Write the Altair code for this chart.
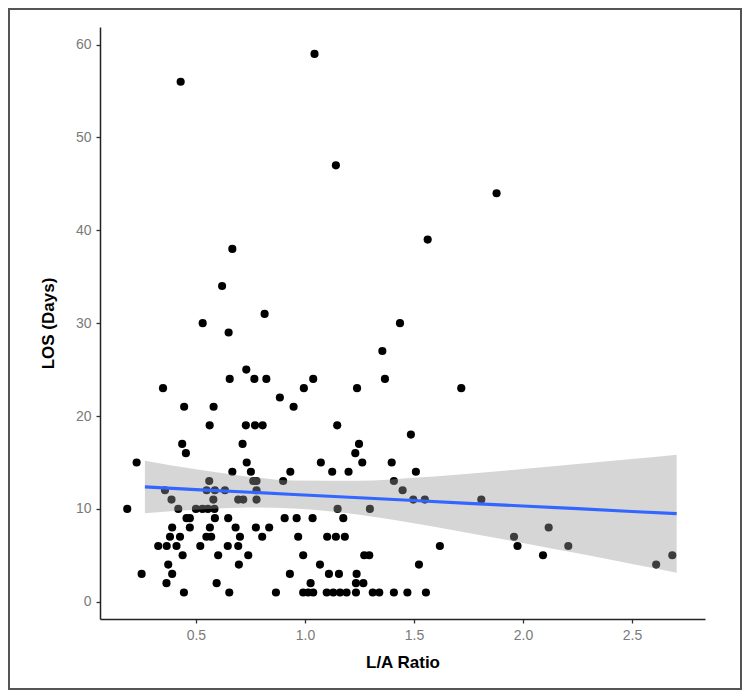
import altair as alt
import pandas as pd

# L/A ratio (x) and LOS in days (y), grouped by LOS value
la_ratio = [
    1.044, 0.430, 1.142, 1.879, 1.563, 0.667, 0.620, 0.815, 0.531, 1.436,
    0.650, 1.355, 0.731,
    0.655, 0.768, 0.823, 1.038, 1.367,
    0.349, 0.995, 1.239, 1.717,
    0.885,
    0.446, 0.581, 0.948,
    0.563, 0.729, 0.771, 0.806, 1.148,
    1.486,
    0.437, 0.714, 1.248,
    0.454, 1.231,
    0.228, 0.733, 1.073, 1.263, 1.398,
    0.667, 0.752, 0.933, 1.125, 1.200, 1.509,
    0.561, 0.763, 0.778, 0.900, 1.408,
    0.358, 0.549, 0.587, 0.633, 0.778, 1.448,
    0.388, 0.580, 0.694, 0.717, 0.778, 1.497, 1.550, 1.809,
    0.185, 0.419, 0.500, 0.530, 0.555, 0.585, 1.150, 1.298,
    0.457, 0.472, 0.587, 0.648, 0.907, 0.962, 1.035, 1.176,
    0.391, 0.472, 0.564, 0.682, 0.775, 0.836, 2.118,
    0.381, 0.427, 0.548, 0.570, 0.702, 0.804, 0.969, 1.102, 1.142, 1.183, 1.959,
    0.327, 0.366, 0.411, 0.520, 0.646, 0.694, 1.619, 1.975, 2.208,
    0.439, 0.602, 0.740, 0.992, 1.272, 1.295, 2.092, 2.685,
    0.373, 0.697, 1.069, 1.523, 2.611,
    0.251, 0.391, 0.931, 1.110, 1.156, 1.237,
    0.365, 0.595, 1.026, 1.234, 1.268,
    0.445, 0.653, 0.867, 0.992, 1.015, 1.038, 1.100, 1.130, 1.161, 1.191,
    1.234, 1.311, 1.341, 1.408, 1.470, 1.555,
]
los_days = [
    59, 56, 47, 44, 39, 38, 34, 31, 30, 30,
    29, 27, 25,
    24, 24, 24, 24, 24,
    23, 23, 23, 23,
    22,
    21, 21, 21,
    19, 19, 19, 19, 19,
    18,
    17, 17, 17,
    16, 16,
    15, 15, 15, 15, 15,
    14, 14, 14, 14, 14, 14,
    13, 13, 13, 13, 13,
    12, 12, 12, 12, 12, 12,
    11, 11, 11, 11, 11, 11, 11, 11,
    10, 10, 10, 10, 10, 10, 10, 10,
    9, 9, 9, 9, 9, 9, 9, 9,
    8, 8, 8, 8, 8, 8, 8,
    7, 7, 7, 7, 7, 7, 7, 7, 7, 7, 7,
    6, 6, 6, 6, 6, 6, 6, 6, 6,
    5, 5, 5, 5, 5, 5, 5, 5,
    4, 4, 4, 4, 4,
    3, 3, 3, 3, 3, 3,
    2, 2, 2, 2, 2,
    1, 1, 1, 1, 1, 1, 1, 1, 1, 1,
    1, 1, 1, 1, 1, 1,
]

# linear smoother and its 95% band
fit_x = [0.266, 0.50, 0.75, 0.95, 1.25, 1.50, 1.75, 2.00, 2.25, 2.50, 2.705]
fit_y = [12.36, 12.08, 11.79, 11.55, 11.20, 10.90, 10.60, 10.31, 10.02, 9.72, 9.48]
fit_lo = [9.53, 9.90, 10.14, 10.05, 9.37, 8.45, 7.41, 6.33, 5.21, 4.07, 3.13]
fit_hi = [15.19, 14.26, 13.44, 13.05, 13.03, 13.35, 13.79, 14.29, 14.83, 15.37, 15.83]

x_ticks = [0.5, 1.0, 1.5, 2.0, 2.5]
y_ticks = [0, 10, 20, 30, 40, 50, 60]
x_domain = [0.06, 2.835]
y_domain = [-1.86, 61.9]

pts = pd.DataFrame({"la": la_ratio, "los": los_days})
band = pd.DataFrame({"la": fit_x, "fit": fit_y, "lo": fit_lo, "hi": fit_hi})

xscale = alt.Scale(domain=x_domain, nice=False, zero=False)
yscale = alt.Scale(domain=y_domain, nice=False, zero=False)

xaxis = alt.Axis(title="L/A Ratio", values=x_ticks, format=".1f")
yaxis = alt.Axis(title="LOS (Days)", values=y_ticks)

points = alt.Chart(pts).mark_circle(size=66, color="#000000", opacity=1).encode(
    x=alt.X("la:Q", scale=xscale, axis=xaxis),
    y=alt.Y("los:Q", scale=yscale, axis=yaxis),
)

ribbon = alt.Chart(band).mark_area(
    color="#999999", opacity=0.4, interpolate="monotone"
).encode(
    x=alt.X("la:Q", scale=xscale),
    y=alt.Y("lo:Q", scale=yscale),
    y2="hi:Q",
)

line = alt.Chart(band).mark_line(color="#3366FF", strokeWidth=3.2).encode(
    x=alt.X("la:Q", scale=xscale),
    y=alt.Y("fit:Q", scale=yscale),
)

frame = alt.Chart(pd.DataFrame({"k": [0]})).mark_rect(
    fill=None, stroke="#555555", strokeWidth=2
).encode(
    x=alt.value(-91), x2=alt.value(641), y=alt.value(-18), y2=alt.value(662)
)

chart = alt.layer(points, ribbon, line, frame).properties(
    width=605,
    height=592,
    autosize=alt.AutoSizeParams(type="none"),
    padding={"left": 92, "top": 19, "right": 37, "bottom": 71},
    background="white",
).configure_view(stroke=None).configure_axis(
    grid=False,
    domainColor="#222222",
    domainWidth=1.5,
    tickColor="#333333",
    tickWidth=1.3,
    tickSize=4,
    labelColor="#7a7a7a",
    labelFont="Liberation Sans",
    labelFontSize=14,
    labelPadding=5,
    titleFont="Liberation Sans",
    titleFontSize=17,
    titleFontWeight="bold",
    titleColor="#000000",
).configure_axisX(titlePadding=12).configure_axisY(titlePadding=18)

chart.save("out.html", embed_options={"renderer": "svg", "actions": False})
